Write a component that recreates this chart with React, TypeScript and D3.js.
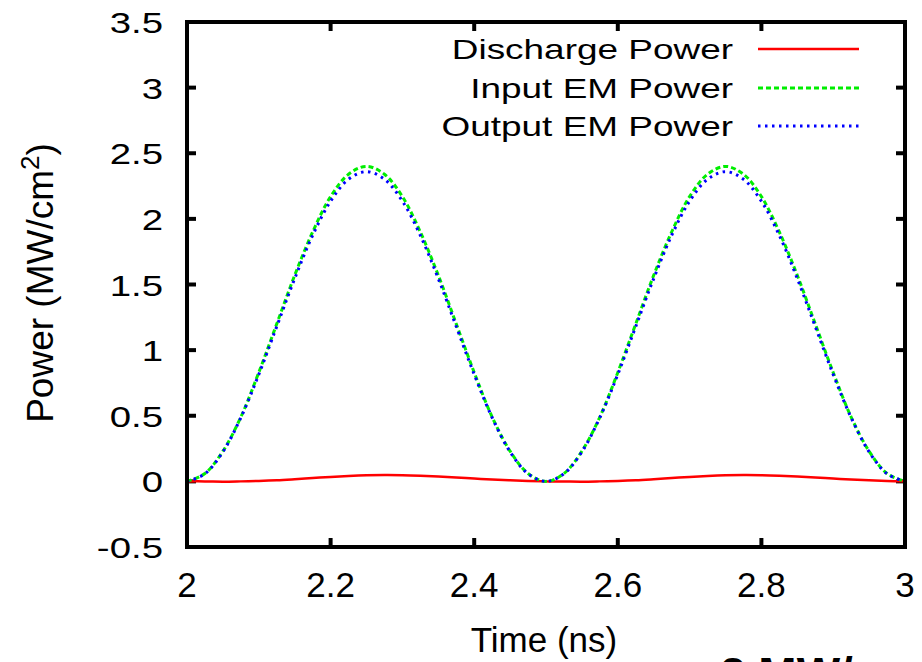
import React from "react";
import * as d3 from "d3";

const time = [
  2.0, 2.025, 2.05, 2.075, 2.1, 2.125, 2.15, 2.175, 2.2, 2.225, 2.25, 2.275, 2.3, 2.325, 2.35, 2.375, 2.4, 2.425, 2.45, 2.475,
  2.5, 2.525, 2.55, 2.575, 2.6, 2.625, 2.65, 2.675, 2.7, 2.725, 2.75, 2.775, 2.8, 2.825, 2.85, 2.875, 2.9, 2.925, 2.95, 2.975, 3.0,
];
const dischargePower = [
  0, 0, -0.002, 0, 0.003, 0.008, 0.016, 0.025, 0.034, 0.041, 0.046, 0.048, 0.047, 0.043, 0.037, 0.03, 0.022, 0.014, 0.008, 0.003,
  0, -0.001, -0.002, 0, 0.003, 0.008, 0.016, 0.025, 0.034, 0.041, 0.046, 0.048, 0.047, 0.043, 0.037, 0.03, 0.022, 0.014, 0.008, 0.003, 0,
];
const inputPower = [
  0, 0.06, 0.23, 0.49, 0.83, 1.2, 1.57, 1.9, 2.17, 2.34, 2.4, 2.34, 2.17, 1.9, 1.57, 1.2, 0.83, 0.49, 0.23, 0.06,
  0, 0.06, 0.23, 0.49, 0.83, 1.2, 1.57, 1.9, 2.17, 2.34, 2.4, 2.34, 2.17, 1.9, 1.57, 1.2, 0.83, 0.49, 0.23, 0.06, 0,
];
const outputPower = [
  0, 0.058, 0.225, 0.486, 0.815, 1.18, 1.545, 1.874, 2.135, 2.302, 2.36, 2.302, 2.135, 1.874, 1.545, 1.18, 0.815, 0.486, 0.225, 0.058,
  0, 0.058, 0.225, 0.486, 0.815, 1.18, 1.545, 1.874, 2.135, 2.302, 2.36, 2.302, 2.135, 1.874, 1.545, 1.18, 0.815, 0.486, 0.225, 0.058, 0,
];
const xTicks = [2, 2.2, 2.4, 2.6, 2.8, 3];
const xTickLabels = ["2", "2.2", "2.4", "2.6", "2.8", "3"];
const yTicks = [-0.5, 0, 0.5, 1, 1.5, 2, 2.5, 3, 3.5];
const yTickLabels = ["-0.5", "0", "0.5", "1", "1.5", "2", "2.5", "3", "3.5"];
const seriesNames = ["Discharge Power", "Input EM Power", "Output EM Power"];

const W = 922;
const H = 662;
const L = 187, R = 905, T = 22, B = 547;
const FONT = "'Liberation Sans', Arial, Helvetica, sans-serif";

export default function App() {
  const x = d3.scaleLinear().domain([2, 3]).range([L, R]);
  const y = d3.scaleLinear().domain([-0.5, 3.5]).range([B, T]);

  const mk = (vals: number[]) =>
    d3
      .line<number>()
      .x((_, i) => x(time[i]))
      .y((v) => y(v))
      .curve(d3.curveCatmullRom)(vals) as string;

  const styles = [
    { color: "#ff0000", dash: undefined as string | undefined, width: 2.5, vals: dischargePower },
    { color: "#00ee00", dash: "5,3", width: 3, vals: inputPower },
    { color: "#0000ff", dash: "2.5,4.5", width: 3, vals: outputPower },
  ];

  const tickLen = 9;
  const legendY = [49, 88, 126];

  return (
    <svg
      width={W}
      height={H}
      style={{ position: "absolute", left: 0, top: 0, background: "#fff" }}
      fontFamily={FONT}
    >
      <rect x={0} y={0} width={W} height={H} fill="#fff" />
      <defs>
        <clipPath id="plotclip">
          <rect x={L} y={T} width={R - L} height={B - T} />
        </clipPath>
      </defs>

      {/* ticks */}
      {yTicks.map((t) => (
        <g key={"yt" + t} stroke="#000" strokeWidth={4}>
          <line x1={L} x2={L + tickLen} y1={y(t)} y2={y(t)} />
          <line x1={R} x2={R - tickLen} y1={y(t)} y2={y(t)} />
        </g>
      ))}
      {xTicks.map((t) => (
        <g key={"xt" + t} stroke="#000" strokeWidth={4}>
          <line x1={x(t)} x2={x(t)} y1={B} y2={B - tickLen} />
          <line x1={x(t)} x2={x(t)} y1={T} y2={T + tickLen} />
        </g>
      ))}

      {/* curves */}
      <g clipPath="url(#plotclip)">
        {styles.map((s, i) => (
          <path
            key={i}
            d={mk(s.vals)}
            fill="none"
            stroke={s.color}
            strokeWidth={s.width}
            strokeDasharray={s.dash}
          />
        ))}
      </g>

      {/* frame */}
      <rect x={L} y={T} width={R - L} height={B - T} fill="none" stroke="#000" strokeWidth={4} />

      {/* y tick labels */}
      {yTicks.map((t, i) => (
        <g key={"yl" + t} transform={`translate(163,${y(t) + 11}) scale(1.28,1)`}>
          <text x={0} y={0} textAnchor="end" fontSize={30} fill="#000">
            {yTickLabels[i]}
          </text>
        </g>
      ))}

      {/* x tick labels */}
      {xTicks.map((t, i) => (
        <text key={"xl" + t} x={x(t)} y={597} textAnchor="middle" fontSize={35} fill="#000">
          {xTickLabels[i]}
        </text>
      ))}

      {/* axis titles */}
      <text x={544} y={652} textAnchor="middle" fontSize={35} fill="#000">
        Time (ns)
      </text>
      <text transform={`translate(53,283) rotate(-90)`} textAnchor="middle" fontSize={37} fill="#000">
        Power (MW/cm
        <tspan fontSize={26} dy={-14}>2</tspan>
        <tspan dy={14}>)</tspan>
      </text>

      {/* legend */}
      {seriesNames.map((n, i) => (
        <g key={"lg" + i}>
          <g transform={`translate(733,${legendY[i] + 10}) scale(1.32,1)`}>
            <text x={0} y={0} textAnchor="end" fontSize={28} fill="#000">
              {n}
            </text>
          </g>
          <line
            x1={758}
            x2={859}
            y1={legendY[i]}
            y2={legendY[i]}
            stroke={styles[i].color}
            strokeWidth={styles[i].width}
            strokeDasharray={styles[i].dash}
          />
        </g>
      ))}

      {/* cut-off caption at bottom (cropped in the reference too) */}
      <text x={720} y={690} fontSize={46} fontWeight="bold" fill="#000">
        2 MW/cm
      </text>
    </svg>
  );
}
